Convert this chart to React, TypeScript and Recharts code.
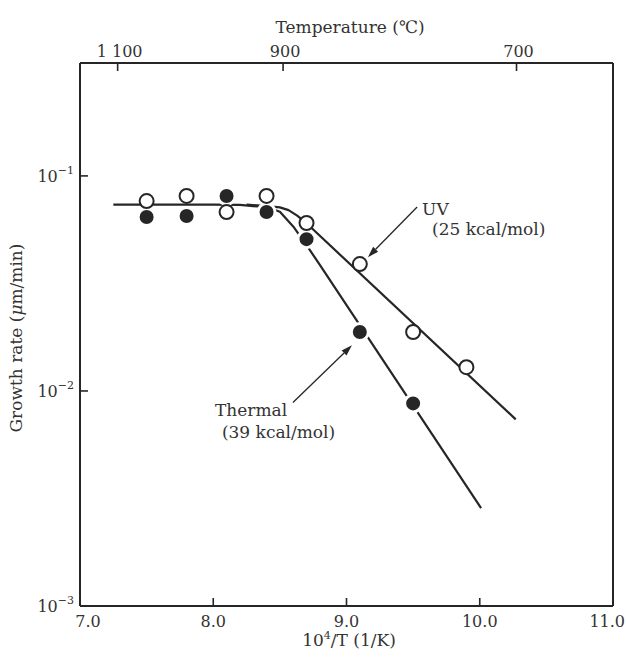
import React from 'react';
import { ComposedChart, Line, Scatter, XAxis, YAxis, ReferenceLine, Label } from 'recharts';

// ---------- data ----------
const xTicks = [7, 8, 9, 10, 11];
const xTickLabels = ['7.0', '8.0', '9.0', '10.0', '11.0'];
const yTicks = [0.001, 0.01, 0.1];
const yTickExps = ['−3', '−2', '−1'];
const tempTicksC = [1100, 900, 700];
const tempTickLabels = ['1 100', '900', '700'];

const uvX = [7.5, 7.8, 8.1, 8.4, 8.7, 9.1, 9.5, 9.9];
const uvY = [0.0764, 0.0807, 0.0679, 0.0807, 0.0604, 0.0389, 0.0188, 0.0129];
const thermalX = [7.5, 7.8, 8.1, 8.4, 8.7, 9.1, 9.5];
const thermalY = [0.0644, 0.0651, 0.0807, 0.0679, 0.0508, 0.0188, 0.00875];

const thermalFitX = [7.25, 8.0, 8.2, 8.3, 8.4, 8.5, 8.6, 8.7, 8.8, 10.01];
const thermalFitY = [0.0735, 0.0735, 0.0733, 0.0724, 0.0716, 0.0681, 0.0582, 0.0476, 0.0386, 0.00285];
const uvFitX = [8.25, 8.4, 8.5, 8.565, 8.63, 8.7, 10.27];
const uvFitY = [0.0735, 0.0724, 0.0714, 0.0693, 0.0654, 0.0602, 0.00738];

const uvArrow = [{ x: 9.53, y: 0.0717 }, { x: 9.161, y: 0.0419 }];
const thermalArrow = [{ x: 8.598, y: 0.00883 }, { x: 9.041, y: 0.0163 }];

// ---------- layout ----------
const W = 626;
const H = 658;
const AX = { top: 30, bottom: 30, left: 40, right: 10 };
const M = { top: 63 - AX.top, right: 13 - AX.right, bottom: 52 - AX.bottom, left: 80 - AX.left };
const PL = 80;
const PT = 63;
const PB = H - 52;
const INK = '#262626';
const TXT = '#333';
const FONT = '"DejaVu Serif", "Liberation Serif", serif';

const zip = (xs: number[], ys: number[]) => xs.map((x, i) => ({ x, y: ys[i] }));
const uvData = zip(uvX, uvY);
const thermalData = zip(thermalX, thermalY);
const thermalFit = zip(thermalFitX, thermalFitY);
const uvFit = zip(uvFitX, uvFitY);
const topTicks = tempTicksC.map((t) => 1e4 / (t + 273.15));

const BottomTick = (p: any) => {
  const v = p.payload.value;
  const i = xTicks.findIndex((t) => Math.abs(t - v) < 1e-6);
  const x = p.x;
  const inner = v > 7.01 && v < 10.99;
  const first = v < 7.01;
  const last = v > 10.99;
  return (
    <g>
      {inner && <line x1={x} y1={PB} x2={x} y2={PB - 8} stroke={INK} strokeWidth={1.6} />}
      <text
        x={first ? x + 8 : last ? 625 : x}
        y={627}
        textAnchor={last ? 'end' : 'middle'}
        fontSize={16}
        fill={TXT}
        fontFamily={FONT}
      >
        {xTickLabels[i]}
      </text>
    </g>
  );
};

const LeftTick = (p: any) => {
  const v = p.payload.value;
  const i = yTicks.findIndex((t) => Math.abs(t - v) / t < 1e-6);
  const y = p.y;
  return (
    <g>
      {v > 0.0011 && <line x1={PL} y1={y} x2={PL + 8} y2={y} stroke={INK} strokeWidth={1.6} />}
      <text x={74} y={y + 6} textAnchor="end" fontSize={16} fill={TXT} fontFamily={FONT}>
        <tspan>10</tspan>
        <tspan dy={-8} fontSize={11}>{yTickExps[i]}</tspan>
      </text>
    </g>
  );
};

const TopTick = (p: any) => {
  const v = p.payload.value;
  const i = topTicks.findIndex((t) => Math.abs(t - v) < 1e-6);
  const x = p.x;
  return (
    <g>
      <line x1={x} y1={PT} x2={x} y2={PT + 8} stroke={INK} strokeWidth={1.6} />
      <text x={x + 2} y={57} textAnchor="middle" fontSize={16} fill={TXT} fontFamily={FONT}>
        {tempTickLabels[i]}
      </text>
    </g>
  );
};

const OpenDot = (p: any) => (
  <circle cx={p.cx} cy={p.cy} r={7} fill="#fff" stroke={INK} strokeWidth={2} />
);
const FilledDot = (p: any) => (
  <circle cx={p.cx} cy={p.cy} r={8.5} fill={INK} stroke="#fff" strokeWidth={3} />
);

const makeArrow = (texts: { t: string; dx: number; dy: number; anchor: string }[]) => (p: any) => {
  const { x1, y1, x2, y2 } = p;
  const ang = Math.atan2(y2 - y1, x2 - x1);
  const L = 11;
  const w = 3.5;
  const bx = x2 - L * Math.cos(ang);
  const by = y2 - L * Math.sin(ang);
  const nx = -Math.sin(ang) * w;
  const ny = Math.cos(ang) * w;
  return (
    <g>
      <line x1={x1} y1={y1} x2={bx} y2={by} stroke={INK} strokeWidth={1.3} />
      <polygon points={`${x2},${y2} ${bx + nx},${by + ny} ${bx - nx},${by - ny}`} fill={INK} />
      {texts.map((t, i) => (
        <text key={i} x={x1 + t.dx} y={y1 + t.dy} textAnchor={t.anchor as any} fontSize={17} fill={TXT} fontFamily={FONT}>
          {t.t}
        </text>
      ))}
    </g>
  );
};

const UVArrow = makeArrow([
  { t: 'UV', dx: 5, dy: 8, anchor: 'start' },
  { t: '(25 kcal/mol)', dx: 15, dy: 28, anchor: 'start' },
]);
const ThermalArrow = makeArrow([
  { t: 'Thermal', dx: -78, dy: 13, anchor: 'start' },
  { t: '(39 kcal/mol)', dx: -71, dy: 35, anchor: 'start' },
]);

export default function App() {
  return (
    <div style={{ position: 'absolute', left: 0, top: 0, width: W, height: H, background: '#fff' }}>
      <ComposedChart width={W} height={H} margin={M}>
        <XAxis
          xAxisId="bottom"
          dataKey="x"
          type="number"
          domain={[7, 11]}
          ticks={xTicks}
          allowDataOverflow
          height={AX.bottom}
          tickLine={false}
          axisLine={{ stroke: INK, strokeWidth: 2 }}
          tick={<BottomTick />}
          interval={0}
        >
          <Label
            content={() => (
              <text x={349} y={646} textAnchor="middle" fontSize={17} fill={TXT} fontFamily={FONT}>
                <tspan>10</tspan>
                <tspan dy={-7} fontSize={11}>4</tspan>
                <tspan dy={7}>/T (1/K)</tspan>
              </text>
            )}
          />
        </XAxis>
        <XAxis
          xAxisId="top"
          orientation="top"
          dataKey="x"
          type="number"
          domain={[7, 11]}
          ticks={topTicks}
          allowDataOverflow
          height={AX.top}
          tickLine={false}
          axisLine={{ stroke: INK, strokeWidth: 2 }}
          tick={<TopTick />}
          interval={0}
        >
          <Label
            content={() => (
              <text x={350} y={33} textAnchor="middle" fontSize={17} fill={TXT} fontFamily={FONT}>
                Temperature (℃)
              </text>
            )}
          />
        </XAxis>
        <YAxis
          yAxisId="left"
          dataKey="y"
          type="number"
          scale="log"
          domain={[0.001, 0.335]}
          ticks={yTicks}
          allowDataOverflow
          width={AX.left}
          tickLine={false}
          axisLine={{ stroke: INK, strokeWidth: 2 }}
          tick={<LeftTick />}
          interval={0}
        >
          <Label
            content={() => (
              <text
                x={22}
                y={338}
                transform="rotate(-90 22 338)"
                textAnchor="middle"
                fontSize={17}
                fill={TXT}
                fontFamily={FONT}
              >
                Growth rate (<tspan fontStyle="italic">μ</tspan>m/min)
              </text>
            )}
          />
        </YAxis>
        <YAxis
          yAxisId="right"
          orientation="right"
          dataKey="y"
          type="number"
          scale="log"
          domain={[0.001, 0.335]}
          allowDataOverflow
          width={AX.right}
          tick={false}
          tickLine={false}
          axisLine={{ stroke: INK, strokeWidth: 2 }}
        />
        <Line
          xAxisId="top"
          yAxisId="right"
          data={thermalFit}
          dataKey="y"
          stroke="none"
          dot={false}
          activeDot={false}
          isAnimationActive={false}
        />
        <Line
          xAxisId="bottom"
          yAxisId="left"
          data={thermalFit}
          dataKey="y"
          type="linear"
          stroke={INK}
          strokeWidth={2.2}
          strokeLinejoin="round"
          dot={false}
          activeDot={false}
          isAnimationActive={false}
        />
        <Line
          xAxisId="bottom"
          yAxisId="left"
          data={uvFit}
          dataKey="y"
          type="linear"
          stroke={INK}
          strokeWidth={2.2}
          strokeLinejoin="round"
          dot={false}
          activeDot={false}
          isAnimationActive={false}
        />
        <Scatter
          xAxisId="bottom"
          yAxisId="left"
          data={thermalData}
          dataKey="y"
          shape={<FilledDot />}
          isAnimationActive={false}
        />
        <Scatter
          xAxisId="bottom"
          yAxisId="left"
          data={uvData}
          dataKey="y"
          shape={<OpenDot />}
          isAnimationActive={false}
        />
        <ReferenceLine
          xAxisId="bottom"
          yAxisId="left"
          segment={uvArrow}
          shape={UVArrow}
          ifOverflow="visible"
        />
        <ReferenceLine
          xAxisId="bottom"
          yAxisId="left"
          segment={thermalArrow}
          shape={ThermalArrow}
          ifOverflow="visible"
        />
      </ComposedChart>
    </div>
  );
}
